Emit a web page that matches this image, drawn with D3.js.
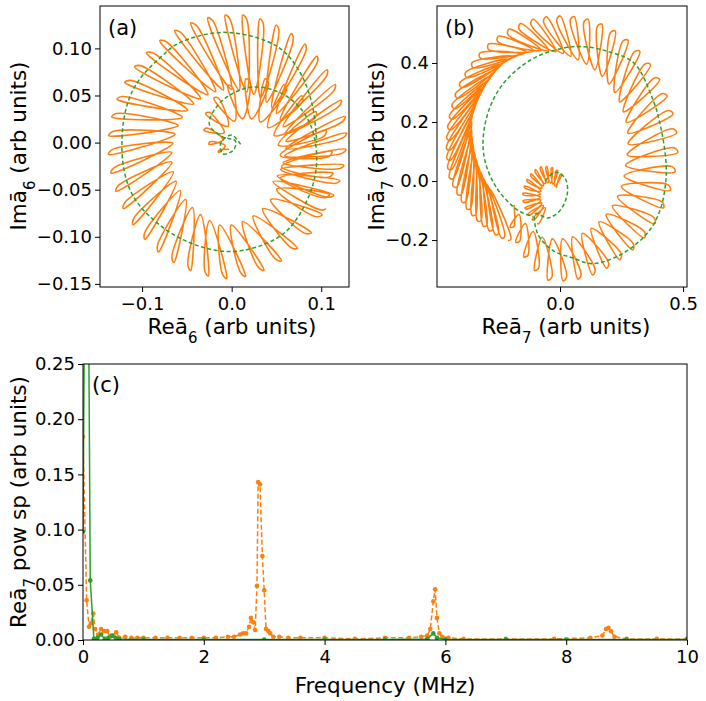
<!DOCTYPE html>
<html lang="en">
<head>
  <meta charset="UTF-8">
  <title>Spiral trajectories and power spectrum</title>
  <script src="https://d3js.org/d3.v7.min.js"></script>
  <style>
    html, body { margin: 0; padding: 0; background: #fff; }
    svg { font-family: "DejaVu Sans", sans-serif; }
  </style>
</head>
<body>
  <div id="chart"></div>
  <script>
    var ORANGE = "#ff7f0e", GREEN = "#2ca02c";

    // panel (a) green guide (x, y)
    var greenAx = [0.01, 0.0, -0.012, -0.01, 0.002, 0.004, -0.01, -0.025, -0.01, 0.024, 0.06, 0.085, 0.095, 0.087, 0.06, 0.02, -0.013, -0.05, -0.081, -0.108, -0.12, -0.122, -0.115, -0.103, -0.08, -0.058, -0.006, 0.051, 0.076, 0.09, 0.095];
    var greenAy = [-0.002, 0.008, 0.0, -0.012, -0.008, 0.002, 0.006, 0.02, 0.045, 0.059, 0.05, 0.025, -0.015, -0.055, -0.095, -0.113, -0.115, -0.105, -0.087, -0.06, -0.03, 0.012, 0.045, 0.067, 0.09, 0.106, 0.117, 0.102, 0.075, 0.04, 0.0];
    // panel (a) orange loops: polar keyframes about a centre (deg, outer radius, tip radius, loop spacing, tip lag)
    var orangeACentre = [0.005, -0.005];
    var orangeAAngle = [200, 90, 0, -90, -180, -270, -360, -395];
    var orangeAOut = [0.02, 0.07, 0.105, 0.137, 0.14, 0.138, 0.12, 0.117];
    var orangeATip = [0.008, 0.03, 0.05, 0.085, 0.07, 0.06, 0.055, 0.055];
    var orangeAStep = [22, 16, 12, 8.5, 8, 8, 8, 8];
    var orangeATilt = [5, 8, 10, 10, 8, 10, 10, 10];

    // panel (b)
    var greenBx = [-0.06, -0.02, 0.02, 0.03, 0.0, -0.05, -0.1, -0.09, -0.03, 0.05, 0.13, 0.22, 0.3, 0.37, 0.41, 0.43, 0.43, 0.41, 0.38, 0.3, 0.19, 0.1, 0.01, -0.12, -0.24, -0.3, -0.31, -0.26, -0.17, -0.11];
    var greenBy = [0.0, 0.03, 0.01, -0.04, -0.1, -0.125, -0.11, -0.18, -0.235, -0.26, -0.28, -0.26, -0.22, -0.16, -0.09, 0.0, 0.07, 0.18, 0.27, 0.4, 0.44, 0.455, 0.45, 0.41, 0.32, 0.21, 0.09, -0.02, -0.1, -0.12];
    var orangeBInCentre = [-0.03, -0.05];
    var orangeBInAngle = [60, 120, 180, 240];
    var orangeBInOut = [0.08, 0.11, 0.12, 0.11];
    var orangeBInTip = [0.03, 0.05, 0.05, 0.05];
    var orangeBInStep = [14, 12, 12, 12];
    var orangeBInTilt = [0, 0, 0, 0];
    var orangeBCentre = [0.0, 0.1];
    var orangeBAngle = [-130, -100, -60, 0, 90, 150, 190, 235];
    var orangeBOut = [0.32, 0.43, 0.43, 0.47, 0.45, 0.46, 0.45, 0.36];
    var orangeBTip = [0.26, 0.3, 0.29, 0.27, 0.32, 0.38, 0.38, 0.31];
    var orangeBStep = [8, 8, 8, 8, 7, 5, 4, 4];
    var orangeBTilt = [-6, -6, -6, -8, -12, -25, -30, -30];

    // panel (c) power spectra
    var freqO = [0.0, 0.06, 0.1, 0.13, 0.17, 0.2, 0.25, 0.3, 0.35, 0.4, 0.45, 0.5, 0.55, 0.6, 0.7, 0.8, 0.9, 1.0, 1.2, 1.4, 1.6, 1.8, 2.0, 2.2, 2.4, 2.5, 2.6, 2.65, 2.7, 2.75, 2.78, 2.82, 2.85, 2.88, 2.9, 2.93, 2.97, 3.0, 3.03, 3.07, 3.1, 3.15, 3.25, 3.4, 3.6, 4.0, 4.5, 5.0, 5.4, 5.6, 5.7, 5.75, 5.8, 5.83, 5.86, 5.9, 5.95, 6.05, 6.3, 7.0, 7.8, 8.4, 8.6, 8.66, 8.7, 8.74, 8.8, 9.0, 9.5, 10.0];
    var powO = [0.184, 0.036, 0.012, 0.015, 0.024, 0.01, 0.005, 0.01, 0.008, 0.008, 0.003, 0.004, 0.007, 0.002, 0.003, 0.002, 0.002, 0.002, 0.002, 0.002, 0.002, 0.002, 0.002, 0.002, 0.003, 0.003, 0.005, 0.006, 0.006, 0.012, 0.02, 0.016, 0.009, 0.049, 0.143, 0.141, 0.076, 0.045, 0.01, 0.008, 0.006, 0.003, 0.003, 0.002, 0.002, 0.002, 0.001, 0.002, 0.002, 0.003, 0.004, 0.01, 0.035, 0.046, 0.02, 0.006, 0.003, 0.002, 0.001, 0.001, 0.001, 0.002, 0.004, 0.01, 0.011, 0.008, 0.003, 0.001, 0.001, 0.001];
    var freqG = [0.0, 0.06, 0.12, 0.18, 0.24, 0.3, 0.36, 0.42, 0.48, 0.54, 0.6, 1.0, 2.0, 3.0, 4.0, 5.0, 5.7, 5.8, 5.86, 6.0, 7.0, 8.0, 9.0, 10.0];
    var powG = [0.098, 0.6, 0.054, 0.001, 0.002, 0.005, 0.001, 0.002, 0.004, 0.002, 0.001, 0.0005, 0.0005, 0.0005, 0.0005, 0.0005, 0.001, 0.006, 0.002, 0.0005, 0.0005, 0.0005, 0.0005, 0.0005];

    var ticksAx = [-0.1, 0.0, 0.1], ticksAy = [-0.15, -0.10, -0.05, 0.0, 0.05, 0.10];
    var ticksBx = [0.0, 0.5], ticksBy = [-0.2, 0.0, 0.2, 0.4];
    var ticksCx = [0, 2, 4, 6, 8, 10], ticksCy = [0, 0.05, 0.1, 0.15, 0.2, 0.25];

    var svg = d3.select("#chart").append("svg").attr("width", 706).attr("height", 701);
    var fmtMinus = function(f) { return function(d) { return d3.format(f)(d).replace("-", "\u2212"); }; };

    function panel(box, xd, yd, xt, yt, xf, yf, id) {
      var x = d3.scaleLinear().domain(xd).range([box.l, box.r]);
      var y = d3.scaleLinear().domain(yd).range([box.b, box.t]);
      svg.append("clipPath").attr("id", id).append("rect")
        .attr("x", box.l).attr("y", box.t).attr("width", box.r - box.l).attr("height", box.b - box.t);
      var g = svg.append("g").attr("clip-path", "url(#" + id + ")");
      var ax = svg.append("g").attr("transform", "translate(0," + box.b + ")")
        .call(d3.axisBottom(x).tickValues(xt).tickFormat(fmtMinus(xf)).tickSize(5).tickSizeOuter(0));
      var ay = svg.append("g").attr("transform", "translate(" + box.l + ",0)")
        .call(d3.axisLeft(y).tickValues(yt).tickFormat(fmtMinus(yf)).tickSize(5).tickSizeOuter(0));
      [ax, ay].forEach(function(a) {
        a.attr("font-family", null).attr("font-size", null);
        a.select(".domain").remove();
        a.selectAll("line").attr("stroke", "#000").attr("stroke-width", 1);
        a.selectAll("text").attr("fill", "#000").style("font-size", "18px");
      });
      ax.selectAll("text").attr("y", 8).attr("dy", "0.85em");
      ay.selectAll("text").attr("x", -8);
      svg.append("rect").attr("x", box.l).attr("y", box.t).attr("width", box.r - box.l)
        .attr("height", box.b - box.t).attr("fill", "none").attr("stroke", "#000").attr("stroke-width", 1);
      return {x: x, y: y, g: g};
    }

    function loopPoints(centre, angles, outs, tips, steps, tilts) {
      var rO = d3.scaleLinear().domain(angles).range(outs);
      var rT = d3.scaleLinear().domain(angles).range(tips);
      var st = d3.scaleLinear().domain(angles).range(steps);
      var tl = d3.scaleLinear().domain(angles).range(tilts);
      var dir = angles[angles.length - 1] > angles[0] ? 1 : -1;
      var pts = [], th = angles[0], end = angles[angles.length - 1];
      function pol(a, r) { var t = a * Math.PI / 180; return [centre[0] + r * Math.cos(t), centre[1] + r * Math.sin(t)]; }
      while ((end - th) * dir > 0) {
        var s = st(th), ro = rO(th);
        pts.push(pol(th + dir * tl(th), rT(th)));
        pts.push(pol(th + dir * s * 0.45, ro * 0.99));
        pts.push(pol(th + dir * s * 0.2, ro * 1.02));
        th += dir * s;
      }
      return pts;
    }

    var lineFor = function(p) {
      return d3.line().x(function(d) { return p.x(d[0]); }).y(function(d) { return p.y(d[1]); })
        .curve(d3.curveCatmullRom.alpha(0.5));
    };
    function loops(p, centre, angles, outs, tips, steps, tilts) {
      p.g.append("path").datum(loopPoints(centre, angles, outs, tips, steps, tilts))
        .attr("d", lineFor(p)).attr("fill", "none").attr("stroke", ORANGE).attr("stroke-width", 1.6);
    }
    function guide(p, gx, gy) {
      p.g.append("path").datum(gx.map(function(v, i) { return [v, gy[i]]; }))
        .attr("d", lineFor(p)).attr("fill", "none").attr("stroke", GREEN).attr("stroke-width", 1.5)
        .attr("stroke-dasharray", "4,2.5");
    }

    var pa = panel({l: 100, r: 349, t: 6, b: 287}, [-0.147, 0.131], [-0.1533, 0.145], ticksAx, ticksAy, ".1f", ".2f", "clipA");
    loops(pa, orangeACentre, orangeAAngle, orangeAOut, orangeATip, orangeAStep, orangeATilt);
    guide(pa, greenAx, greenAy);
    var pb = panel({l: 437, r: 687, t: 6, b: 287}, [-0.5, 0.516], [-0.359, 0.593], ticksBx, ticksBy, ".1f", ".1f", "clipB");
    loops(pb, orangeBInCentre, orangeBInAngle, orangeBInOut, orangeBInTip, orangeBInStep, orangeBInTilt);
    loops(pb, orangeBCentre, orangeBAngle, orangeBOut, orangeBTip, orangeBStep, orangeBTilt);
    guide(pb, greenBx, greenBy);

    var pc = panel({l: 83, r: 687, t: 364, b: 640}, [0, 10], [0, 0.25], ticksCx, ticksCy, "d", ".2f", "clipC");
    var lc = d3.line().x(function(d) { return pc.x(d[0]); }).y(function(d) { return pc.y(d[1]); });
    var dO = freqO.map(function(f, i) { return [f, powO[i]]; });
    var dG = freqG.map(function(f, i) { return [f, powG[i]]; });
    pc.g.append("path").datum(dO).attr("d", lc).attr("fill", "none").attr("stroke", ORANGE)
      .attr("stroke-width", 1.5).attr("stroke-dasharray", "5,2.5");
    pc.g.selectAll(".mo").data(dO).join("circle").attr("cx", function(d) { return pc.x(d[0]); })
      .attr("cy", function(d) { return pc.y(d[1]); }).attr("r", 2.3).attr("fill", ORANGE);
    pc.g.append("path").datum(dG).attr("d", lc).attr("fill", "none").attr("stroke", GREEN).attr("stroke-width", 1.5);
    pc.g.selectAll(".mg").data(dG).join("circle").attr("cx", function(d) { return pc.x(d[0]); })
      .attr("cy", function(d) { return pc.y(d[1]); }).attr("r", 2.3).attr("fill", GREEN);

    // panel letters
    [["(a)", 108, 35], ["(b)", 445, 35], ["(c)", 92, 392]].forEach(function(t) {
      svg.append("text").attr("x", t[1]).attr("y", t[2]).style("font-size", "21px").text(t[0]);
    });

    function label(x, y, rot, pre, sub, post) {
      var t = svg.append("text").attr("text-anchor", "middle").style("font-size", "21.5px")
        .attr("transform", "translate(" + x + "," + y + ")" + (rot ? " rotate(-90)" : ""));
      t.append("tspan").text(pre + "a\u0304");
      t.append("tspan").attr("baseline-shift", "sub").style("font-size", "15px").text(sub);
      t.append("tspan").text(post);
    }
    label(232, 334, false, "Re", "6", " (arb units)");
    label(26, 146, true, "Im", "6", " (arb units)");
    label(566, 334, false, "Re", "7", " (arb units)");
    label(384, 146, true, "Im", "7", " (arb units)");
    label(26, 502, true, "Re", "7", " pow sp (arb units)");
    svg.append("text").attr("x", 385).attr("y", 693).attr("text-anchor", "middle")
      .style("font-size", "21.5px").text("Frequency (MHz)");
  </script>
</body>
</html>
